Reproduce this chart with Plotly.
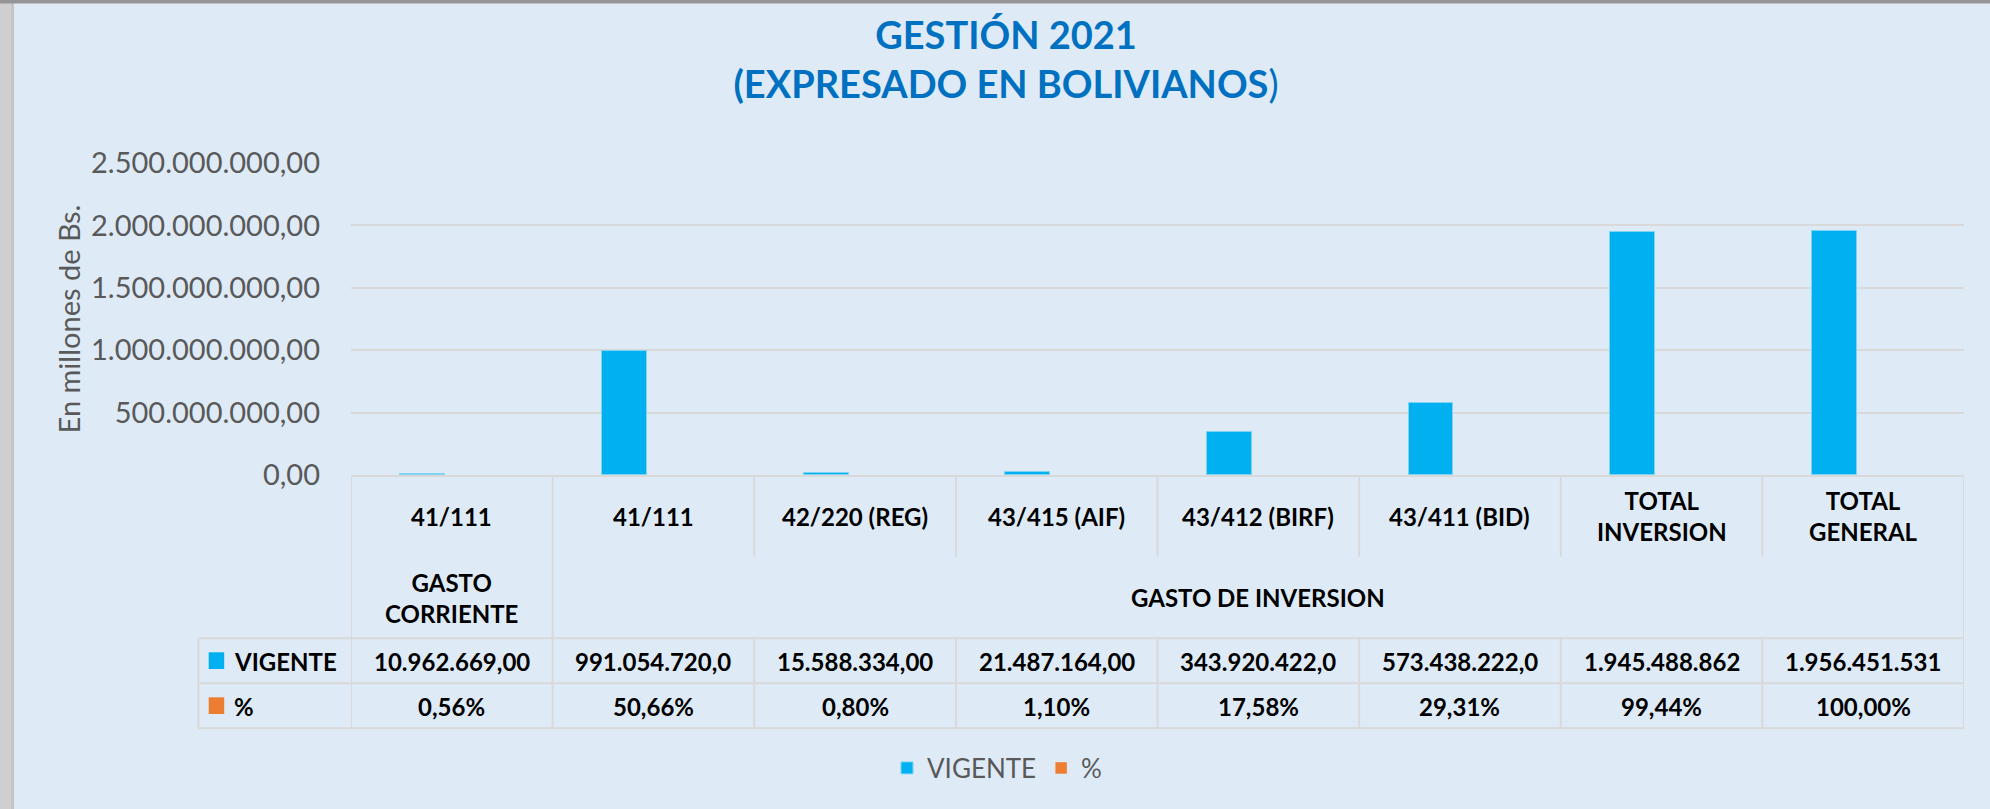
import plotly.graph_objects as go

# ---------------- data ----------------
categories = ["41/111", "41/111", "42/220 (REG)", "43/415 (AIF)", "43/412 (BIRF)",
              "43/411 (BID)", "TOTAL<br>INVERSION", "TOTAL<br>GENERAL"]
group_labels = ["GASTO<br>CORRIENTE", "GASTO DE INVERSION"]
group_first = [0, 1]
group_last = [0, 7]
vigente = [10962669.00, 991054720.00, 15588334.00, 21487164.00,
           343920422.00, 573438222.00, 1945488862.00, 1956451531.00]
pct = [0.56, 50.66, 0.80, 1.10, 17.58, 29.31, 99.44, 100.00]
y_ticks = [0, 500000000, 1000000000, 1500000000, 2000000000, 2500000000]
series_names = ["VIGENTE", "%"]

# ---------------- style ----------------
W, H = 1990, 809
L, R, T, B = 351, 1964, 163, 475
BG = "#DEEBF7"
BLUE = "#00B0F0"
ORANGE = "#ED7D31"
GRID = "#D9D9D9"
FONT = "Lato"


def px_x(p):
    return (p - L) / (R - L)


def px_y(p):
    return (B - p) / (B - T)


def fmt_num(v):
    s = f"{v:,.2f}".replace(",", "X").replace(".", ",").replace("X", ".")
    return s[:13]


def fmt_pct(p):
    return f"{p:.2f}%".replace(".", ",")


xs = list(range(len(categories)))

fig = go.Figure()
fig.add_trace(go.Bar(
    x=xs, y=vigente, name=series_names[0], marker_color=BLUE,
    marker_line=dict(color="#7fd3f5", width=1),
    width=0.223, offset=-0.255,
))
fig.add_trace(go.Bar(
    x=xs, y=[p / 100 for p in pct], name=series_names[1], marker_color=ORANGE,
    width=0.223, offset=0.032,
))

shapes = []
line = dict(color=GRID, width=2)
# row boundaries
row1_bot = px_y(556.7)
row2_bot = px_y(638.3)
row3_bot = px_y(683.3)
row4_bot = px_y(728.3)
tbl_left = px_x(198.4)
for yy in (row2_bot, row3_bot, row4_bot):
    shapes.append(dict(type="line", xref="paper", yref="paper", x0=tbl_left, x1=1,
                       y0=yy, y1=yy, line=line))
shapes.append(dict(type="line", xref="paper", yref="paper", x0=tbl_left, x1=tbl_left,
                   y0=row2_bot, y1=row4_bot, line=line))
# vertical boundaries between categories
n = len(categories)
group_edges = set([g - 0.5 for g in group_first] + [g + 0.5 for g in group_last])
for k in range(n + 1):
    xb = k - 0.5
    if xb in group_edges:
        shapes.append(dict(type="line", xref="x", yref="paper", x0=xb, x1=xb,
                           y0=0, y1=row4_bot, line=line))
    else:
        shapes.append(dict(type="line", xref="x", yref="paper", x0=xb, x1=xb,
                           y0=0, y1=row1_bot, line=line))
        shapes.append(dict(type="line", xref="x", yref="paper", x0=xb, x1=xb,
                           y0=row2_bot, y1=row4_bot, line=line))
# legend keys inside the data table
for col, (ya, yb) in zip([BLUE, ORANGE], [(652.3, 669), (697.3, 714)]):
    shapes.append(dict(type="rect", xref="paper", yref="paper",
                       x0=px_x(208.7), x1=px_x(224.2), y0=px_y(yb), y1=px_y(ya),
                       fillcolor=col, line=dict(width=0)))
# frame strips (left textured border / top strip)
shapes.append(dict(type="rect", xref="paper", yref="paper", x0=px_x(0), x1=px_x(13),
                   y0=px_y(H), y1=px_y(0), fillcolor="#cfcfcf", line=dict(width=0),
                   layer="below"))
shapes.append(dict(type="rect", xref="paper", yref="paper", x0=px_x(11), x1=px_x(14),
                   y0=px_y(H), y1=px_y(0), fillcolor="#c4c4c4", line=dict(width=0),
                   layer="below"))
shapes.append(dict(type="rect", xref="paper", yref="paper", x0=px_x(0), x1=px_x(W),
                   y0=px_y(3.5), y1=px_y(0), fillcolor="#959595", line=dict(width=0),
                   layer="below"))

annotations = []
tfont = dict(family=FONT, size=24, color="#000000")
for i, c in enumerate(categories):
    annotations.append(dict(x=i, y=px_y(516), xref="x", yref="paper", text=f"<b>{c}</b>",
                            showarrow=False, font=tfont, xanchor="center", yanchor="middle"))
    annotations.append(dict(x=i, y=px_y(661), xref="x", yref="paper",
                            text=f"<b>{fmt_num(vigente[i])}</b>",
                            showarrow=False, font=tfont, xanchor="center", yanchor="middle"))
    annotations.append(dict(x=i, y=px_y(706), xref="x", yref="paper",
                            text=f"<b>{fmt_pct(pct[i])}</b>",
                            showarrow=False, font=tfont, xanchor="center", yanchor="middle"))
for g, a, b in zip(group_labels, group_first, group_last):
    annotations.append(dict(x=(a + b) / 2, y=px_y(597.5), xref="x", yref="paper",
                            text=f"<b>{g}</b>", showarrow=False, font=tfont,
                            xanchor="center", yanchor="middle"))
for name, yy in zip(series_names, [661, 706]):
    annotations.append(dict(x=px_x(231.7), y=px_y(yy), xref="paper", yref="paper",
                            text=f"<b>{name}</b>", showarrow=False, font=tfont,
                            xanchor="left", yanchor="middle"))

fig.update_layout(
    width=W, height=H, autosize=False,
    margin=dict(l=L, r=W - R, t=T, b=H - B, pad=0),
    paper_bgcolor=BG, plot_bgcolor=BG,
    separators=",.",
    title=dict(text="<b>GESTIÓN 2021</b><br><b>(EXPRESADO EN BOLIVIANOS</b>)",
               x=1006 / W, xref="container", xanchor="center",
               y=1 - 49 / H, yref="container", yanchor="middle",
               font=dict(family=FONT, size=38, color="#0070C0")),
    showlegend=True,
    legend=dict(orientation="h", xref="container", yref="container",
                x=997 / W, xanchor="center", y=1 - 768 / H, yanchor="middle",
                font=dict(family=FONT, size=26, color="#595959"),
                bgcolor="rgba(0,0,0,0)"),
    xaxis=dict(range=[-0.5, n - 0.5], showticklabels=False, showgrid=False,
               zeroline=False, showline=True, linecolor=GRID, linewidth=2,
               fixedrange=True),
    yaxis=dict(range=[0, 2500000000], tickvals=y_ticks, tickformat=",.2f",
               showgrid=True, gridcolor=GRID, gridwidth=2, zeroline=False,
               showline=False, ticks="", ticklabelstandoff=30,
               tickfont=dict(family=FONT, size=29, color="#595959"),
               title=dict(text="En millones de Bs.", standoff=1,
                          font=dict(family=FONT, size=29, color="#595959"))),
    shapes=shapes, annotations=annotations,
    bargap=0,
)

fig.write_html("out.html", config={"displayModeBar": False},
               post_script="document.body.style.margin='0';document.body.style.padding='0';")
